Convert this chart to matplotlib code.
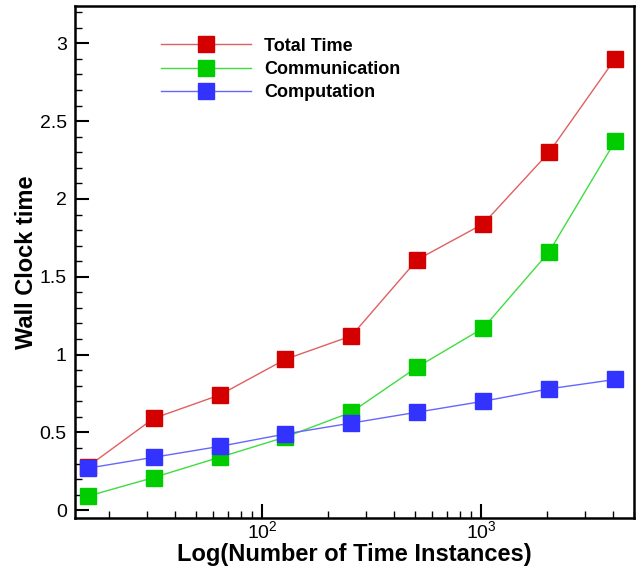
import matplotlib
matplotlib.use("Agg")
import matplotlib.pyplot as plt
from matplotlib.ticker import LogLocator, MultipleLocator, NullFormatter, FixedLocator

plt.rcParams['font.family'] = ['Liberation Sans', 'DejaVu Sans']
plt.rcParams['mathtext.fontset'] = 'custom'
plt.rcParams['mathtext.rm'] = 'Liberation Sans'

instances = [16, 32, 64, 128, 256, 512, 1024, 2048, 4096]
total_time = [0.28, 0.59, 0.74, 0.97, 1.12, 1.61, 1.84, 2.30, 2.90]
communication = [0.09, 0.21, 0.34, 0.47, 0.63, 0.92, 1.17, 1.66, 2.37]
computation = [0.27, 0.34, 0.41, 0.49, 0.56, 0.63, 0.70, 0.78, 0.84]

series = [
    ("Total Time", total_time, "#d40000", "#e06060"),
    ("Communication", communication, "#00cc00", "#40dd40"),
    ("Computation", computation, "#3333ff", "#6666ff"),
]

fig = plt.figure(figsize=(6.38, 5.71), dpi=100)
ax = fig.add_axes([75/638, 53/571, 559/638, 512/571])

handles = []
for label, vals, mc, lc in series:
    h, = ax.plot(instances, vals, color=lc, lw=1.0, marker='s', markersize=11,
                 markerfacecolor=mc, markeredgecolor=mc, label=label)
    handles.append(h)

ax.set_xscale('log')
ax.set_xlim(14, 5000)
ax.set_ylim(-0.05, 3.24)

ax.yaxis.set_minor_locator(MultipleLocator(0.1))
ax.set_yticks([0, 0.5, 1, 1.5, 2, 2.5, 3])
ax.set_yticklabels(['0', '0.5', '1', '1.5', '2', '2.5', '3'])

ax.xaxis.set_major_locator(FixedLocator([100, 1000]))
ax.set_xticklabels([r'$10^2$', r'$10^3$'])
ax.xaxis.set_minor_locator(LogLocator(base=10, subs=range(2, 10)))
ax.xaxis.set_minor_formatter(NullFormatter())

ax.tick_params(which='major', direction='in', length=10, width=1.5, labelsize=14, pad=6)
ax.tick_params(axis='x', which='major', pad=2)
ax.tick_params(which='minor', direction='in', length=5, width=1.0)
ax.tick_params(axis='y', which='both', right=False)
ax.tick_params(axis='x', which='both', top=False)

for s in ax.spines.values():
    s.set_linewidth(1.8)

ax.set_xlabel('Log(Number of Time Instances)', fontsize=17, fontweight='bold', labelpad=0)
ax.set_ylabel('Wall Clock time', fontsize=17, fontweight='bold', labelpad=1)

leg = ax.legend(handles=handles, loc='upper left', bbox_to_anchor=(0.125, 0.97),
                frameon=False, handlelength=5.0, handletextpad=0.7,
                labelspacing=0.35, prop={'weight': 'bold', 'size': 13})

fig.savefig('out.png', dpi=100)
